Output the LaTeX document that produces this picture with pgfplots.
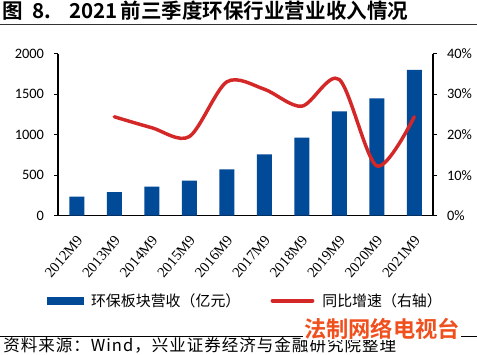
\documentclass[border=0pt]{standalone}
\usepackage{pgfplots}
\pgfplotsset{compat=1.18}
\usepackage{fontspec}
\setmainfont{Carlito}
\newfontfamily\cjk{Noto Sans CJK SC}
\newfontfamily\cjksp{Noto Sans CJK SC}[LetterSpace=6]
\newfontfamily\cjkb{Noto Sans CJK SC Bold}
\newfontfamily\serif{Liberation Serif}
\definecolor{barblue}{RGB}{0,74,152}
\definecolor{linered}{RGB}{212,40,40}
\definecolor{wmred}{RGB}{240,80,30}
\begin{document}
\begin{tikzpicture}
\path[use as bounding box] (0,0) rectangle (357.75pt,265.5pt);
% title
\node[anchor=base west, inner sep=0pt, font=\cjkb\fontsize{15.4pt}{16pt}\selectfont] at (1.5pt,251.8pt) {图\hspace{7pt}8.\hspace{14pt}2021\hspace{2pt}前三季度环保行业营业收入情况};
\draw[line width=1pt, black!80] (0pt,247.1pt) -- (357.75pt,247.1pt);
% footer
\draw[line width=0.8pt, black] (0pt,13pt) -- (357.75pt,13pt);
\node[anchor=base west, inner sep=0pt, font=\cjksp\fontsize{12.4pt}{13pt}\selectfont] at (2.25pt,2pt) {资料来源：Wind，兴业证券经济与金融研究院整理};
\node[anchor=west, fill=white, inner sep=0.8pt, text=wmred, font=\cjkb\fontsize{16.7pt}{17pt}\selectfont] at (227pt,19pt) {法制网络电视台};

\begin{axis}[
  at={(43.5pt,103.725pt)}, anchor=south west,
  scale only axis, width=281.25pt, height=121.65pt,
  xmin=-0.5, xmax=9.5, ymin=0, ymax=2000,
  axis x line*=bottom, axis y line*=left,
  axis line style={black, line width=0.8pt},
  ytick={0,500,1000,1500,2000},
  xtick={0,...,9},
  xticklabels={2012M9,2013M9,2014M9,2015M9,2016M9,2017M9,2018M9,2019M9,2020M9,2021M9},
  x tick style={draw=none},
  y tick style={black, line width=0.8pt},
  tick align=outside, major tick length=3pt,
  ticklabel style={font=\fontsize{10.8pt}{12pt}\selectfont},
  /pgf/number format/assume math mode=true,
  /pgf/number format/set thousands separator={},
  yticklabel style={xshift=-4pt},
  xticklabel style={font=\serif\fontsize{11pt}{12pt}\selectfont, anchor=east, xshift=4.5pt, yshift=-10.7pt, rotate=50},
  ybar, bar width=11.25pt,
]
\addplot[fill=barblue, draw=none] coordinates {
(0,234) (1,292) (2,358) (3,432) (4,572) (5,757) (6,962) (7,1287) (8,1447) (9,1797)};
\end{axis}

\begin{axis}[
  at={(43.5pt,103.725pt)}, anchor=south west,
  scale only axis, width=281.25pt, height=121.65pt,
  xmin=-0.5, xmax=9.5, ymin=0, ymax=40,
  axis x line=none, axis y line*=right,
  axis line style={black, line width=0.8pt},
  ytick={0,10,20,30,40},
  yticklabel={\pgfmathprintnumber{\tick}\%},
  y tick style={black, line width=0.8pt},
  tick align=outside, major tick length=3pt,
  ticklabel style={font=\fontsize{10.8pt}{12pt}\selectfont},
  /pgf/number format/assume math mode=true,
  yticklabel style={xshift=4pt},
  legend style={at={(0.5,-0.524)}, anchor=center, draw=none, fill=none,
    font=\cjk\fontsize{11.2pt}{12pt}\selectfont, inner sep=0pt,
    /tikz/every odd column/.append style={column sep=4pt},
    /tikz/every even column/.append style={column sep=20.7pt}},
  legend columns=2,
]
\addlegendimage{legend image code/.code={\fill[barblue] (0pt,-2.4pt) rectangle (27pt,2.4pt);}}
\addlegendentry{环保板块营收（亿元）}
\addplot[linered, line width=2.6pt, smooth, line cap=round,
  legend image code/.code={\draw[linered, line width=2.8pt, line cap=round] (0pt,0pt) -- (30pt,0pt);}] coordinates {
(1,24.4) (2,21.7) (3,19.5) (4,33.0) (5,31.2) (6,27.0) (7,33.6) (8,12.3) (9,24.4)};
\addlegendentry{同比增速（右轴）}
\end{axis}
\end{tikzpicture}
\end{document}
